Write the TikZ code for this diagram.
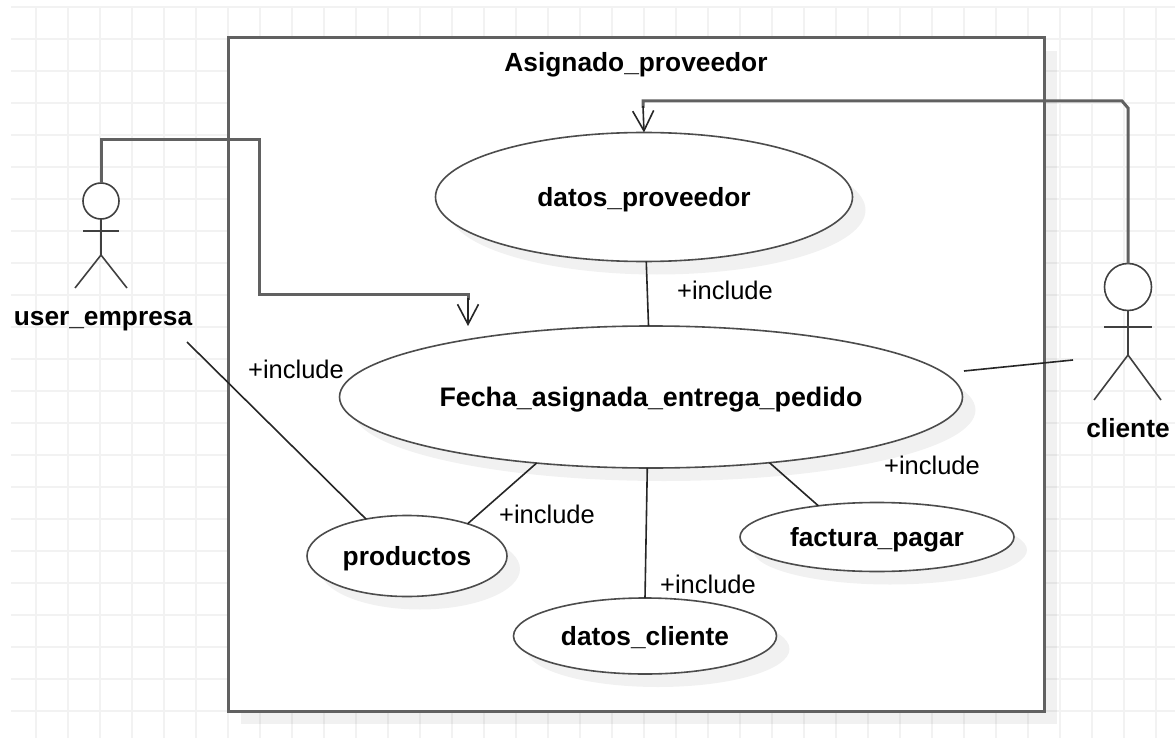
\documentclass[tikz,border=0pt]{standalone}
\usepackage{fontspec}
\setmainfont{Liberation Sans}
\usetikzlibrary{shapes.geometric, arrows.meta, shadows}

\tikzset{
    gridline/.style={draw=black!5, line width=1.4pt},
    heavy/.style={draw=black!62, line width=3pt},
    thin link/.style={draw=black!85, line width=1.6pt},
    open tip/.style={-{Straight Barb[length=20pt, width=21pt, line width=1.6pt]}},
    shade/.style={drop shadow={shadow xshift=13pt, shadow yshift=-13pt, fill=black, opacity=0.055}},
    boldlabel/.style={font=\fontsize{26.3}{28}\selectfont\bfseries, text height=19pt, text depth=0pt},
    usecase/.style={ellipse, draw=black!70, line width=1.6pt, fill=white, inner sep=0pt, outer sep=0pt, shade, boldlabel},
    head/.style={circle, draw=black!75, line width=1.6pt, fill=white, inner sep=0pt, outer sep=0pt},
    stick/.style={draw=black!75, line width=1.6pt},
    includelabel/.style={font=\fontsize{25.5}{28}\selectfont}
}

\begin{document}
\begin{tikzpicture}[x=1pt, y=-1pt]
\useasboundingbox (0,0) rectangle (1175,738);
% Grid
\foreach \x in {36,68,...,1172} {
    \draw[gridline] (\x,7) -- (\x,738);
}
\foreach \y in {7,39,...,738} {
    \draw[gridline] (11,\y) -- (1175,\y);
}
% System box
\node (sistema) at (636,374.5) [rectangle, minimum width=816pt, minimum height=673pt, inner sep=0pt, outer sep=0pt, heavy, fill=white, shade] {};
\node (titulo) at (636,62) [boldlabel] {Asignado\_proveedor};
% Use cases
\node (datos_proveedor) at (644,197) [usecase, minimum width=417pt, minimum height=129pt] {datos\_proveedor};
\node (fecha) at (651,397) [usecase, minimum width=623pt, minimum height=142pt, font=\fontsize{26.8}{28}\selectfont\bfseries] {Fecha\_asignada\_entrega\_pedido};
\node (productos) at (407,556) [usecase, minimum width=200pt, minimum height=81pt] {productos};
\node (factura_pagar) at (877,537) [usecase, minimum width=274pt, minimum height=69pt] {factura\_pagar};
\node (datos_cliente) at (645,636) [usecase, minimum width=263pt, minimum height=76pt] {datos\_cliente};
% Actor on the left
\node (user_head) at (101,201) [head, minimum size=36pt] {};
\coordinate (user_hip) at (101,255);
\draw[stick] (user_head.south) -- (user_hip);
\draw[stick] (83,231) -- (119,231);
\draw[stick] (75,288) -- (user_hip) -- (127,288);
\node (user_empresa) at (103,316) [boldlabel] {user\_empresa};
% Actor on the right
\node (cliente_head) at (1128,287) [head, minimum size=47pt] {};
\coordinate (cliente_hip) at (1128,355);
\draw[stick] (cliente_head.south) -- (cliente_hip);
\draw[stick] (1104,327) -- (1152,327);
\draw[stick] (1094,400) -- (cliente_hip) -- (1161,400);
\node (cliente) at (1128,428) [boldlabel] {cliente};
% Free ends
\coordinate (fecha_in) at (468,326);
\coordinate (user_out) at (187,342);
\coordinate (fecha_out) at (964,371);
\coordinate (cliente_in) at (1073,360);
% Routed associations
\draw[heavy] (user_head.north) -- (101,140) -- (259,140) -- (259,294) -- (468,294) -- (468,300);
\draw[thin link, open tip] (468,298) -- (fecha_in);
\draw[heavy] (cliente_head.north) -- (1128,108) -- (1122,101) -- (643,101) -- (643,108);
\draw[thin link, open tip] (643,106) -- (datos_proveedor.north);
% Plain associations
\draw[thin link] (datos_proveedor.272) -- (fecha.92);
\draw[thin link] (fecha.267) -- (datos_cliente.north);
\draw[thin link] (fecha.210) -- (productos.28);
\draw[thin link] (fecha.331) -- (factura_pagar.152);
\draw[thin link] (user_out) -- (productos.138);
\draw[thin link] (fecha_out) -- (cliente_in);
% Labels
\node (inc_a) at (725,290) [includelabel] {+include};
\node (inc_b) at (296,369) [includelabel] {+include};
\node (inc_c) at (547,514) [includelabel] {+include};
\node (inc_d) at (932,465) [includelabel] {+include};
\node (inc_e) at (708,584) [includelabel] {+include};
\end{tikzpicture}
\end{document}
